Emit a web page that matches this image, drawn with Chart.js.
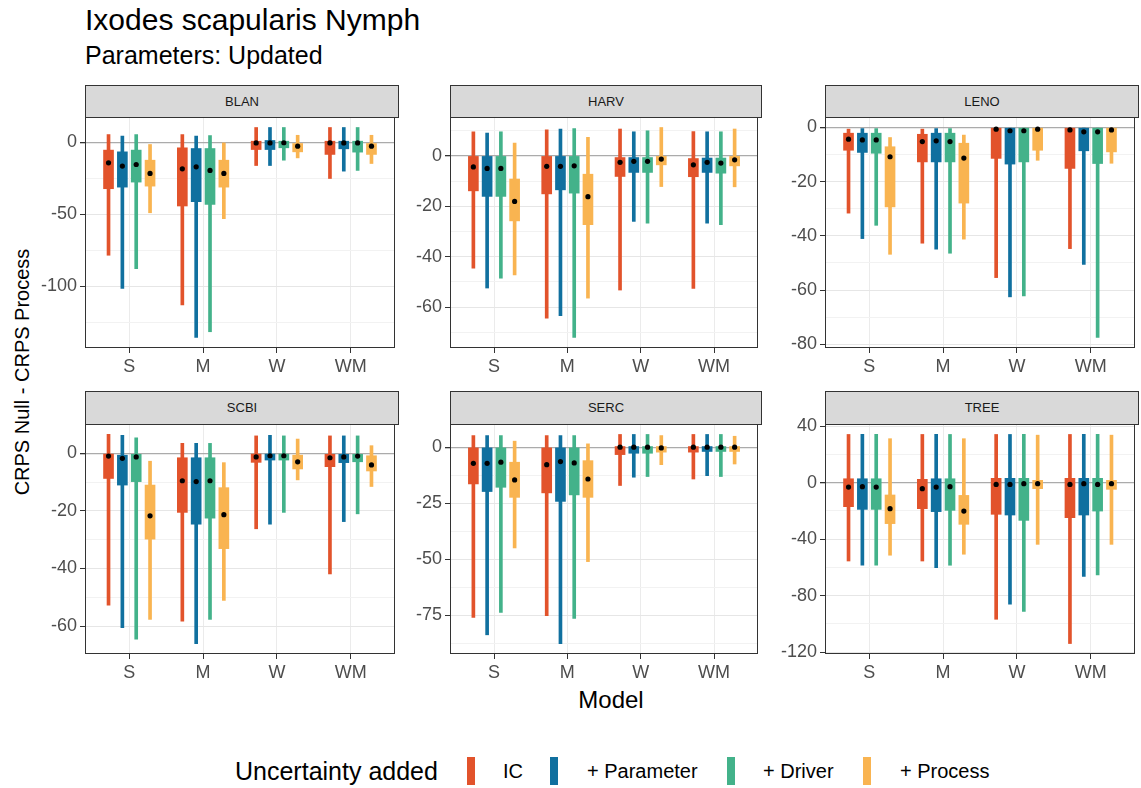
<!DOCTYPE html>
<html>
<head>
<meta charset="utf-8">
<title>Ixodes scapularis Nymph</title>
<script src="https://cdn.jsdelivr.net/npm/chart.js@4.4.1/dist/chart.umd.min.js"></script>
<style>
  body { margin: 0; background: #fff; font-family: "Liberation Sans", Arial, sans-serif; }
  #page { position: relative; width: 1141px; height: 788px; overflow: hidden; }
  .txt { position: absolute; white-space: nowrap; color: #000; }
  .strip { position: absolute; box-sizing: border-box; background: #D9D9D9; border: 1px solid #333; text-align: center; font-size: 13px; color: #1A1A1A; }
  .panel { position: absolute; }
  .key { position: absolute; width: 8px; height: 28px; }
</style>
</head>
<body>
<div id="page">
  <div class="txt" style="left:85px; top:5px; font-size:30px; line-height:30px;">Ixodes scapularis Nymph</div>
  <div class="txt" style="left:85px; top:43px; font-size:25px; line-height:25px;">Parameters: Updated</div>
  <div class="txt" style="left:22px; top:372px; font-size:20px; line-height:20px; transform: translate(-50%, -50%) rotate(-90deg);">CRPS Null - CRPS Process</div>
  <div class="txt" style="left:611px; top:688px; font-size:24px; line-height:24px; transform: translateX(-50%);">Model</div>
  <div class="txt" style="left:235px; top:759px; font-size:25px; line-height:25px;">Uncertainty added</div>
  <div id="legend"></div>
</div>
<script>
const models = ['S', 'M', 'W', 'WM'];
const uncertainty = ['IC', '+ Parameter', '+ Driver', '+ Process'];
const sites = ['BLAN', 'HARV', 'LENO', 'SCBI', 'SERC', 'TREE'];

// one row per uncertainty source, [min, q1, median, q3, max] for S, M, W, WM
const BLAN = [
    [[-78.5, -32.3, -14.3, -5.5, 5.3], [-113, -44.3, -18.5, -3.9, 5.3], [-16.2, -5.1, -0.5, 0.7, 10.2], [-25.2, -8.5, -0.5, 0.7, 10.2]],
    [[-101.6, -31.2, -16.6, -6.7, 4.2], [-135.6, -41.3, -17.1, -4.4, 4.2], [-16.2, -5.1, -0.5, 1.2, 10.2], [-20.1, -4.6, -0.5, 0.7, 10.2]],
    [[-87.8, -27.7, -15.5, -5.5, 5.3], [-131.6, -43.2, -19.6, -4.4, 4.6], [-12.5, -3.9, -0.4, 0.7, 10.2], [-19.6, -6.9, -0.5, 0.7, 10.2]],
    [[-49, -30.5, -21.7, -12.5, -1.6], [-53.1, -31.2, -21.7, -12.5, -0.5], [-10.9, -6.7, -2.8, -0.9, 4.8], [-14.8, -8.5, -2.8, -0.9, 4.8]]
];
const HARV = [
    [[-44.5, -13.9, -4.4, 0, 9.5], [-64.3, -15.1, -4.2, 0, 10.3], [-53.2, -8.2, -2.6, -0.7, 10.6], [-52.6, -8.3, -3.6, -1.1, 9.6]],
    [[-52.4, -16.1, -5.0, 0, 9.0], [-63.4, -13.5, -4.2, 0, 10.6], [-26.0, -6.6, -2.2, -0.7, 9.5], [-26.7, -6.6, -2.6, -0.9, 9.5]],
    [[-48.5, -16.1, -5.0, 0, 9.5], [-72, -14.8, -4.0, 0, 10.8], [-26.7, -6.6, -2.2, -0.7, 9.9], [-27.3, -6.9, -2.9, -0.9, 9.5]],
    [[-47.2, -25.8, -18.1, -9.2, 5.0], [-56.4, -27.3, -16.2, -7.3, 7.3], [-12.2, -3.6, -1.3, 0, 11.2], [-12.3, -4.0, -1.6, 0, 10.6]]
];
const LENO = [
    [[-31.6, -8.4, -4.3, -2.1, -0.6], [-42.7, -12.7, -5.2, -2.5, -0.6], [-55.4, -11.4, -0.6, 0, 0], [-44.7, -15.1, -0.9, 0, 0]],
    [[-41, -9.2, -4.6, -2.1, -0.4], [-44.9, -12.7, -4.9, -2.1, -0.4], [-62.5, -13.5, -1.2, 0, 0], [-50.5, -8.6, -1.6, 0, 0]],
    [[-36.1, -9.5, -4.6, -2.1, -0.4], [-46.4, -12.7, -5.2, -2.1, -0.4], [-62.2, -12.7, -1.2, 0, 0], [-77.5, -13.3, -1.6, 0, 0]],
    [[-46.8, -29.3, -10.8, -7.1, -3.7], [-41.2, -27.9, -11.3, -5.8, -2.8], [-12.1, -8.4, -0.6, 0, 0], [-13.2, -9.0, -0.9, 0, 0]]
];
const SCBI = [
    [[-52.8, -8.7, -0.9, 0, 6.6], [-58.3, -20.5, -9.5, -1.5, 3.5], [-26.2, -3.1, -1.2, 0, 6.1], [-41.9, -4.6, -1.5, -0.3, 6.1]],
    [[-60.6, -11.0, -1.7, -0.6, 6.3], [-66.1, -24.6, -9.8, -1.5, 3.5], [-24.6, -2.3, -0.8, 0, 6.3], [-23.7, -3.2, -1.2, -0.3, 6.1]],
    [[-64.6, -9.8, -1.2, -0.3, 5.4], [-57.7, -22.5, -9.5, -1.5, 3.5], [-20.5, -2.3, -0.8, 0, 6.1], [-21, -2.9, -0.9, -0.3, 6.1]],
    [[-57.7, -29.8, -21.7, -11.0, -2.7], [-51.1, -33.1, -21.3, -11.9, -3.2], [-9.2, -5.4, -2.9, -0.6, 5.0], [-11.5, -6.1, -4.0, -0.8, 2.7]]
];
const SERC = [
    [[-76, -16.4, -7.2, 0, 5.2], [-75.3, -20.4, -7.8, 0, 5.2], [-17.1, -3.3, 0, 0.3, 5.7], [-14.2, -2.2, 0, 0.3, 5.7]],
    [[-83.8, -19.8, -7.2, 0, 5.2], [-87.7, -24.2, -6.4, 0, 5.2], [-13.4, -2.7, 0, 0.3, 5.7], [-12.7, -1.9, 0, 0.3, 5.7]],
    [[-73.8, -17.9, -6.7, 0, 5.2], [-76.5, -21.3, -7.0, 0, 5.2], [-13.1, -2.7, 0, 0.3, 5.7], [-13.1, -1.9, 0, 0.3, 5.7]],
    [[-45.0, -22.4, -14.6, -6.7, 2.7], [-51.1, -22.4, -14.2, -6.0, 1.5], [-7.8, -2.2, -0.3, 0.3, 5.2], [-7.5, -1.9, 0, 0.3, 4.9]]
];
const TREE = [
    [[-55.5, -17.0, -3.1, 2.8, 34.2], [-55.5, -18.4, -4.2, 2.4, 34.2], [-96.8, -22.4, -1.2, 3.1, 34.2], [-114, -24.8, -1.2, 3.1, 34.2]],
    [[-58.5, -18.9, -2.8, 2.8, 34.2], [-60.2, -20.5, -3.1, 2.8, 34.2], [-86.1, -22.9, -1.2, 3.1, 34.2], [-66.5, -22.9, -0.7, 3.1, 34.2]],
    [[-58.5, -18.9, -3.1, 2.8, 34.2], [-58.5, -19.6, -2.8, 2.8, 34.2], [-91.3, -26.7, -0.7, 3.1, 34.2], [-65.4, -20.1, -1.2, 3.1, 34.2]],
    [[-51.4, -29.0, -18.4, -8.7, 31.2], [-50.7, -29.5, -20.1, -9.0, 31.2], [-43.7, -4.2, -0.7, 1.7, 33.7], [-43.7, -4.7, -0.7, 1.7, 33.7]]
];

// labelled y ticks for each facet
const blanTicks = [-100, -50, 0];
const harvTicks = [-60, -40, -20, 0];
const lenoTicks = [-80, -60, -40, -20, 0];
const scbiTicks = [-60, -40, -20, 0];
const sercTicks = [-75, -50, -25, 0];
const treeTicks = [-120, -80, -40, 0, 40];

const colours = ['#E2532B', '#10709F', '#43B28A', '#F9B451'];

const siteStats = [BLAN, HARV, LENO, SCBI, SERC, TREE];
const siteTicks = [blanTicks, harvTicks, lenoTicks, scbiTicks, sercTicks, treeTicks];

// facet layout
const cols = [{ left: 85, width: 314 }, { left: 450, width: 312 }, { left: 825, width: 314 }];
const rows = [{ strip: 85, top: 117, height: 231 }, { strip: 391, top: 424, height: 230 }];
const AXIS_W = 60, XAXIS_H = 40, TOP_PAD = 12, DODGE = 0.1875;
const tickFont = { family: 'Liberation Sans', size: 18 };

const panelBorder = {
    id: 'panelBorder',
    afterDraw(chart) {
        const { ctx, chartArea: a } = chart;
        ctx.save();
        ctx.strokeStyle = '#333333';
        ctx.lineWidth = 1;
        ctx.strokeRect(a.left + 0.5, a.top + 0.5, a.right - a.left - 1, a.bottom - a.top - 1);
        ctx.restore();
    }
};

const page = document.getElementById('page');

function makePanel(k) {
    const col = cols[k % 3], row = rows[Math.floor(k / 3)];
    const stats = siteStats[k], major = siteTicks[k];

    const strip = document.createElement('div');
    strip.className = 'strip';
    strip.textContent = sites[k];
    strip.style.left = col.left + 'px';
    strip.style.top = row.strip + 'px';
    strip.style.width = col.width + 'px';
    strip.style.height = (row.top - row.strip + 1) + 'px';
    strip.style.lineHeight = (row.top - row.strip - 1) + 'px';
    page.appendChild(strip);

    const wrap = document.createElement('div');
    wrap.className = 'panel';
    wrap.style.left = (col.left - AXIS_W) + 'px';
    wrap.style.top = (row.top - TOP_PAD) + 'px';
    const canvas = document.createElement('canvas');
    canvas.width = AXIS_W + col.width;
    canvas.height = TOP_PAD + row.height + XAXIS_H;
    wrap.appendChild(canvas);
    page.appendChild(wrap);

    const datasets = [];
    let lo = Infinity, hi = -Infinity;
    uncertainty.forEach((u, s) => {
        const r = stats[s];
        const xs = models.map((m, i) => i + 1 + (s - 1.5) * DODGE);
        // whisker: min to max
        datasets.push({
            type: 'bar', label: u, order: 2, grouped: false, barThickness: 3,
            backgroundColor: colours[s], borderWidth: 0,
            data: r.map((v, i) => ({ x: xs[i], y: [v[0], v[4]] }))
        });
        // box: q1 to q3
        datasets.push({
            type: 'bar', label: u, order: 1, grouped: false, barThickness: 10,
            backgroundColor: colours[s], borderWidth: 0,
            data: r.map((v, i) => ({ x: xs[i], y: [v[1], v[3]] }))
        });
        // median dot
        datasets.push({
            type: 'scatter', label: u, order: 0,
            pointRadius: 2.6, pointBackgroundColor: '#000', pointBorderWidth: 0,
            data: r.map((v, i) => ({ x: xs[i], y: v[2] }))
        });
        r.forEach(v => { lo = Math.min(lo, v[0]); hi = Math.max(hi, v[4]); });
    });
    const pad = (hi - lo) * 0.05;
    const step = major[1] - major[0];

    new Chart(canvas, {
        type: 'bar',
        data: { datasets: datasets },
        plugins: [panelBorder],
        options: {
            responsive: false,
            animation: false,
            devicePixelRatio: 1,
            layout: { padding: { top: TOP_PAD, left: 0, right: 0, bottom: 0 } },
            plugins: { legend: { display: false }, tooltip: { enabled: false } },
            scales: {
                x: {
                    type: 'linear', min: 0.4, max: 4.6, offset: false,
                    border: { display: false },
                    grid: { offset: false, color: '#EBEBEB', tickColor: '#333333', tickLength: 5 },
                    ticks: { autoSkip: false, maxRotation: 0, padding: 3, color: '#4D4D4D', font: tickFont,
                        callback: v => models[v - 1] },
                    afterBuildTicks: scale => { scale.ticks = models.map((m, i) => ({ value: i + 1 })); },
                    afterFit: scale => { scale.height = XAXIS_H; scale.paddingLeft = 0; scale.paddingRight = 0; }
                },
                y: {
                    min: lo - pad, max: hi + pad,
                    border: { display: false },
                    grid: {
                        color: c => c.tick.value === 0 ? '#ABABAB' : (major.includes(c.tick.value) ? '#E6E6E6' : '#F2F2F2'),
                        lineWidth: c => c.tick.value === 0 ? 1.3 : 1,
                        tickColor: c => major.includes(c.tick.value) ? '#333333' : 'rgba(0,0,0,0)',
                        tickLength: 5
                    },
                    ticks: { autoSkip: false, padding: 3, color: '#4D4D4D', font: tickFont,
                        callback: v => major.includes(v) ? String(v) : '' },
                    afterBuildTicks: scale => {
                        const vals = [];
                        for (let v = major[0] - step; v <= major[major.length - 1] + step + 1e-9; v += step / 2) {
                            if (v >= scale.min && v <= scale.max) vals.push(v);
                        }
                        scale.ticks = vals.map(v => ({ value: v }));
                    },
                    afterFit: scale => { scale.width = AXIS_W; scale.paddingTop = 0; scale.paddingBottom = 0; }
                }
            }
        }
    });
}

sites.forEach((s, k) => makePanel(k));

// legend
const legend = document.getElementById('legend');
const keyX = [467, 550, 727, 863];
const labelX = [503, 587, 763, 900];
uncertainty.forEach((u, s) => {
    const key = document.createElement('div');
    key.className = 'key';
    key.style.left = keyX[s] + 'px';
    key.style.top = '757px';
    key.style.background = colours[s];
    legend.appendChild(key);
    const lab = document.createElement('div');
    lab.className = 'txt';
    lab.style.left = labelX[s] + 'px';
    lab.style.top = '761px';
    lab.style.fontSize = '20px';
    lab.style.lineHeight = '20px';
    lab.textContent = u;
    legend.appendChild(lab);
});
</script>
</body>
</html>
